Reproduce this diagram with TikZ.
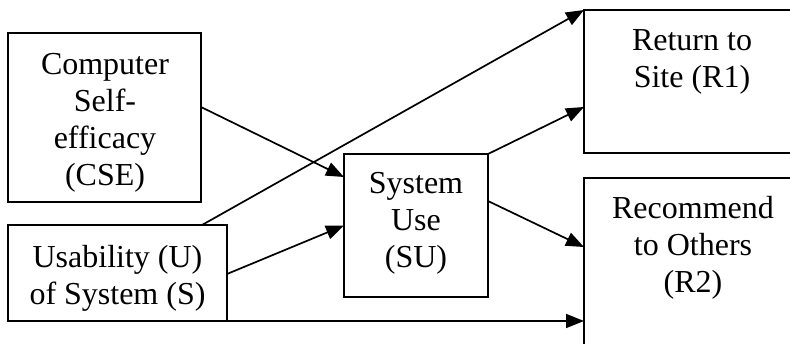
\documentclass[tikz,border=0pt]{standalone}
\usepackage{fontspec}
\setmainfont{Liberation Serif}
\usetikzlibrary{arrows.meta}
\begin{document}
\begin{tikzpicture}[x=1pt,y=-1pt,
  box/.style={draw,line width=1.8pt,rectangle,inner sep=0pt,outer sep=0pt,anchor=north west},
  txt/.style={align=center,anchor=north,inner sep=0pt,font=\fontsize{32}{37}\selectfont},
  conn/.style={line width=1.7pt,-{Triangle[length=18pt,width=14pt]}}]
\useasboundingbox (0,0) rectangle (790,343);
\node[box,minimum width=193pt,minimum height=169pt] (cse) at (8,33) {};
\node[box,minimum width=219pt,minimum height=96pt] (us) at (8,225) {};
\node[box,minimum width=144pt,minimum height=143pt] (su) at (344,154) {};
\node[box,minimum width=230pt,minimum height=143pt] (r1) at (584,10) {};
\node[box,minimum width=230pt,minimum height=200pt] (r2) at (584,178) {};
\node[txt] (tcse) at (105,48) {\strut Computer\\Self-\\efficacy\\(CSE)};
\node[txt] (tus) at (117.5,241) {\strut Usability (U)\\of System (S)};
\node[txt] (tsu) at (416,167) {\strut System\\Use\\(SU)};
\node[txt] (tr1) at (692,24) {\strut Return to\\Site (R1)};
\node[txt] (tr2) at (693,192) {\strut Recommend\\to Others\\(R2)};
\draw[conn] ([yshift=10.5pt]cse.east) -- ([yshift=48.5pt]su.west);
\draw[conn] ([xshift=84.5pt]us.north) -- (r1.north west);
\draw[conn] ([yshift=-1pt]us.east) -- (su.west);
\draw[conn] (us.south east) -- (us.south east -| r2.west);
\draw[conn] (su.north east) -- ([yshift=-25.5pt]r1.west);
\draw[conn] ([yshift=24.5pt]su.east) -- ([yshift=-(247-178)*1pt]r2.north west);
\end{tikzpicture}
\end{document}
